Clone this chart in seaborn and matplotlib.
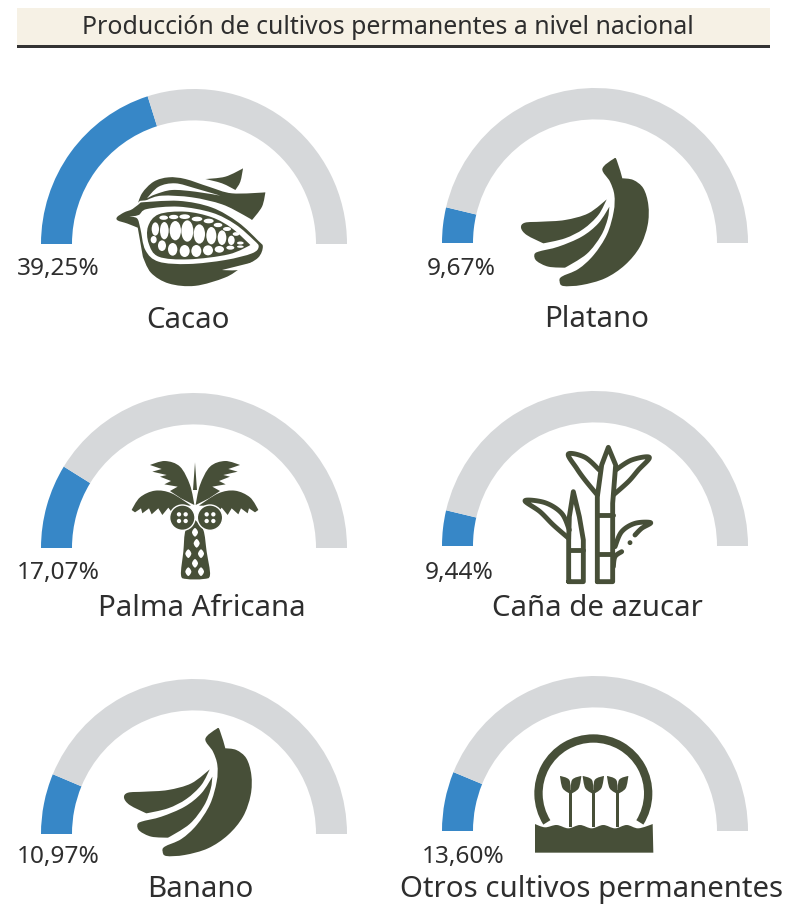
import numpy as np
import matplotlib
matplotlib.use("Agg")
import matplotlib.pyplot as plt
import seaborn as sns
from matplotlib.path import Path
from matplotlib.patches import PathPatch, Circle, Ellipse, Rectangle, Wedge

# ---- data ----
title_text = "Producción de cultivos permanentes a nivel nacional"
crops = ["Cacao", "Platano", "Palma Africana", "Caña de azucar", "Banano", "Otros cultivos permanentes"]
printed_values = ["39,25%", "9,67%", "17,07%", "9,44%", "10,97%", "13,60%"]
# share of the half ring that is painted blue, as measured on the arcs themselves
arc_blue_share = [40.2, 7.4, 17.6, 7.4, 12.6, 12.4]

W, H = 789, 905
BLUE, GREY, ICON, INK = "#3787C7", "#D6D8DA", "#474F38", "#2E2E2E"
FONT = "Noto Sans"

sns.set_theme(style="white")
plt.rcParams["font.family"] = [FONT, "DejaVu Sans"]

fig = plt.figure(figsize=(W / 100, H / 100), dpi=100, facecolor="white")

# layout: cx, base y, value label x, value baseline, name x, name baseline
slots = [
    (194, 244, 17, 275, 188, 328),
    (595, 243, 427, 275, 597, 327),
    (194, 548, 17, 579, 202, 616),
    (595, 546, 425, 579, 597, 616),
    (194, 834, 17, 863, 200, 897),
    (595, 831, 422, 863, 592, 897),
]
Rx, Ry, ring = 153, 155, 31 / 153


def gauge(cx, by, share):
    ax = fig.add_axes([(cx - Rx) / W, 1 - (by + Ry) / H, 2 * Rx / W, 2 * Ry / H])
    ax.pie([share, 100 - share, 100], colors=[BLUE, GREY, "none"], startangle=180,
           counterclock=False, radius=1, wedgeprops=dict(width=ring, linewidth=0))
    ax.set_aspect("auto")
    ax.set_xlim(-1, 1)
    ax.set_ylim(-1, 1)
    ax.axis("off")


for (cx, by, *_), share in zip(slots, arc_blue_share):
    gauge(cx, by, share)

# overlay in pixel coordinates for header, labels and pictograms
ov = fig.add_axes([0, 0, 1, 1], zorder=5)
ov.set_xlim(0, W)
ov.set_ylim(H, 0)
ov.axis("off")
ov.patch.set_alpha(0)
sns.despine(ax=ov, left=True, bottom=True)

ov.add_patch(Rectangle((17, 8), 753, 37, fc="#F6F1E5", ec="none"))
ov.add_patch(Rectangle((17, 45), 753, 2.6, fc="#333333", ec="none"))
ov.text(387.5, 33.5, title_text, ha="center", va="baseline", fontsize=17.9, color=INK)

for (cx, by, vx, vy, nx, ny), name, val in zip(slots, crops, printed_values):
    ov.text(vx, vy, val, ha="left", va="baseline", fontsize=17.6, color=INK)
    ov.text(nx, ny, name, ha="center", va="baseline", fontsize=21.2, color=INK)


# ---- pictogram helpers (points are units of a 3x enlarged crop) ----
def smooth(pts, ox, oy):
    """closed Catmull-Rom curve; a point with a third item is a sharp corner."""
    P = np.array([[p[0] / 3 + ox, p[1] / 3 + oy] for p in pts], float)
    corner = [len(p) > 2 for p in pts]
    n = len(P)
    T = np.array([(np.zeros(2) if corner[i] else (P[(i + 1) % n] - P[i - 1]) / 6) for i in range(n)])
    verts, codes = [P[0]], [Path.MOVETO]
    for i in range(n):
        j = (i + 1) % n
        verts += [P[i] + T[i], P[j] - T[j], P[j]]
        codes += [Path.CURVE4] * 3
    verts.append(P[0])
    codes.append(Path.CLOSEPOLY)
    return Path(verts, codes)


def blob(pts, ox, oy, color=ICON, z=6, edge="none", elw=0):
    ov.add_patch(PathPatch(smooth(pts, ox, oy), fc=color, ec=edge, lw=elw, zorder=z))


def stroke(pts, ox, oy, lw=3.5, z=6):
    x = [p[0] / 3 + ox for p in pts]
    y = [p[1] / 3 + oy for p in pts]
    ov.plot(x, y, color=ICON, lw=lw, solid_capstyle="round", solid_joinstyle="round", zorder=z)


def curve(pts, ox, oy, lw=3.5):
    """open Catmull-Rom stroke"""
    P = np.array(pts, float)
    Q = np.vstack([P[0], P, P[-1]])
    out = []
    for i in range(1, len(Q) - 2):
        for t in np.linspace(0, 1, 12):
            a, b, c, d = Q[i - 1], Q[i], Q[i + 1], Q[i + 2]
            out.append(0.5 * (2 * b + (c - a) * t + (2 * a - 5 * b + 4 * c - d) * t ** 2 + (3 * b - a - 3 * c + d) * t ** 3))
    stroke(out, ox, oy, lw)


def banana(ox, oy):
    blob([(262, 42), (295, 12), (305, 15), (322, 70, 1), (355, 75), (385, 100), (400, 150), (398, 210), (375, 275),
          (330, 330), (270, 370), (200, 390), (145, 393), (134, 380), (140, 365), (190, 342), (236, 300),
          (276, 238), (296, 170), (298, 120), (285, 80)], ox, oy)
    blob([(283, 155, 1), (250, 205), (200, 245), (130, 275), (70, 290), (58, 300), (65, 318), (100, 335),
          (150, 338, 1), (215, 297), (258, 242), (278, 192)], ox, oy)
    blob([(275, 133, 1), (220, 175), (150, 195), (80, 200), (30, 203), (18, 218), (35, 240), (85, 265, 1),
          (150, 250), (205, 222), (250, 180)], ox, oy)


def cacao(ox, oy):
    blob([(280, 42, 1), (340, 35), (393, 10, 1), (385, 50), (370, 75, 1), (330, 55)], ox, oy)
    blob([(75, 125, 1), (90, 85), (125, 50), (170, 37), (220, 42), (290, 65), (360, 85), (460, 82, 1), (450, 125),
          (420, 165, 1), (395, 150), (330, 118), (240, 97), (150, 92), (105, 105)], ox, oy)
    blob([(105, 100, 1), (140, 65), (190, 55), (250, 70), (325, 92, 1), (250, 80), (180, 75), (130, 88)],
         ox, oy, "white", 7)
    blob([(13, 155), (35, 140), (60, 130), (85, 110, 1), (200, 105), (300, 125), (380, 170), (440, 225), (455, 245),
          (440, 280), (390, 310), (340, 340), (250, 365), (170, 358), (115, 325), (90, 275, 1), (75, 190, 1),
          (45, 178), (15, 168)], ox, oy, ICON, 8, "white", 1.2)
    blob([(50, 155, 1), (80, 150), (105, 132), (200, 125), (300, 143), (370, 178), (425, 225), (440, 245), (420, 265),
          (340, 285), (230, 297), (140, 290), (100, 255), (85, 190), (75, 160)], ox, oy, "white", 9)
    blob([(108, 185), (140, 148), (220, 140), (300, 157), (360, 190), (415, 240, 1), (350, 268), (230, 283),
          (140, 275), (110, 235)], ox, oy, ICON, 10)
    seeds = [(155, 158, 26, 13), (185, 156, 28, 13), (218, 155, 32, 14), (255, 162, 32, 14), (290, 168, 30, 14),
             (318, 180, 26, 13), (345, 192, 24, 12), (372, 207, 20, 11),
             (130, 192, 22, 40), (157, 197, 26, 52), (190, 197, 34, 58), (226, 198, 36, 64), (262, 207, 34, 58),
             (298, 212, 30, 52), (330, 218, 26, 44), (358, 226, 20, 28), (385, 234, 20, 9),
             (125, 224, 18, 22), (150, 242, 24, 32), (182, 253, 28, 38), (218, 258, 30, 36), (253, 258, 30, 36),
             (288, 256, 30, 30), (322, 253, 28, 20), (355, 248, 24, 12), (385, 245, 20, 7)]
    for x, y, w, h in seeds:
        ov.add_patch(Ellipse((x / 3 + ox, y / 3 + oy), w / 3, h / 3, fc="white", ec="none", zorder=11))
    blob([(330, 315, 1), (390, 300), (430, 290, 1), (385, 314)], ox, oy, "white", 9)


def palm(ox, oy):
    up = [(75, 30, 1), (120, 18), (165, 35), (195, 90), (208, 150, 1), (168, 130, 1), (135, 108, 1), (158, 95, 1),
          (118, 88, 1), (138, 78, 1), (105, 65, 1), (125, 60, 1), (82, 50, 1), (110, 42, 1)]
    dn = [(20, 165, 1), (45, 127), (90, 107), (140, 115), (198, 152, 1), (160, 152, 1), (145, 178, 1), (130, 158, 1),
          (112, 180, 1), (100, 160, 1), (80, 178, 1), (72, 160, 1), (52, 175, 1), (48, 160, 1), (30, 172, 1)]
    for frond in (up, dn):
        blob(frond, ox, oy)
        blob([(420 - p[0], p[1], *p[2:]) for p in frond], ox, oy)
    blob([(210, 22, 1), (216, 105, 1), (204, 105, 1)], ox, oy)
    blob([(210, 195, 1), (235, 225), (245, 290), (255, 360), (235, 372), (185, 372), (168, 360), (175, 290),
          (182, 225)], ox, oy)
    for cx in (172, 255):
        ov.add_patch(Circle((cx / 3 + ox, 188 / 3 + oy), 38 / 3, fc=ICON, ec="white", lw=1.0, zorder=7))
        for dx, dy in ((-10, -10), (10, -10), (-10, 10), (10, 10)):
            ov.add_patch(Ellipse(((cx + dx) / 3 + ox, (188 + dy) / 3 + oy), 13 / 3, 13 / 3, fc="white", ec="none", zorder=8))
    for x, y in [(210, 232), (215, 265), (190, 296), (228, 296), (210, 325), (190, 350), (228, 350)]:
        blob([(x, y - 13), (x + 9, y), (x, y + 13), (x - 9, y)], ox, oy, "white", 7)


def cane(ox, oy):
    # right stalk with spear
    stroke([(232, 425), (232, 170), (245, 75), (265, 22), (287, 75), (278, 190), (278, 425), (232, 425)], ox, oy)
    stroke([(232, 225), (278, 225)], ox, oy)
    stroke([(232, 343), (278, 343)], ox, oy)
    # left stalk with spear
    stroke([(146, 425), (146, 300), (148, 230), (160, 155), (178, 230), (190, 300), (190, 425), (146, 425)], ox, oy)
    stroke([(146, 330), (190, 330)], ox, oy)
    # leaves
    curve([(232, 165), (195, 120), (170, 85), (145, 42), (195, 52), (238, 90)], ox, oy)
    curve([(280, 165), (325, 125), (355, 90), (388, 52), (335, 60), (287, 90)], ox, oy)
    curve([(146, 295), (100, 255), (60, 215), (15, 182), (75, 188), (125, 220), (148, 270)], ox, oy)
    curve([(285, 320), (305, 275), (345, 250), (392, 248), (365, 265), (345, 285)], ox, oy)
    curve([(280, 380), (285, 350), (305, 335)], ox, oy)
    ov.add_patch(Circle((330 / 3 + ox, 308 / 3 + oy), 2.4, fc=ICON, ec="none", zorder=6))


def dome(ox, oy):
    ov.add_patch(Wedge((190 / 3 + ox, 190 / 3 + oy), 177 / 3, 148, 32, width=25 / 3, fc=ICON, ec="none", zorder=6))
    blob([(15, 282, 1), (45, 292), (80, 285), (115, 295), (150, 285), (185, 295), (220, 285), (255, 295), (290, 285),
          (325, 295), (368, 282, 1), (370, 368, 1), (15, 368, 1)], ox, oy)
    for x in (122, 190, 263):
        ov.add_patch(Rectangle(((x - 5) / 3 + ox, 180 / 3 + oy), 10 / 3, 110 / 3, fc=ICON, ec="none", zorder=6))
        blob([(x - 32, 138, 1), (x - 4, 150), (x, 192, 1), (x - 24, 175)], ox, oy)
        blob([(x + 32, 138, 1), (x + 4, 150), (x, 192, 1), (x + 24, 175)], ox, oy)


cacao(112, 165)
banana(515, 155)
palm(125, 455)
cane(520, 440)
banana(118, 725)
dome(530, 730)

fig.savefig("out.png", dpi=100, facecolor="white")
